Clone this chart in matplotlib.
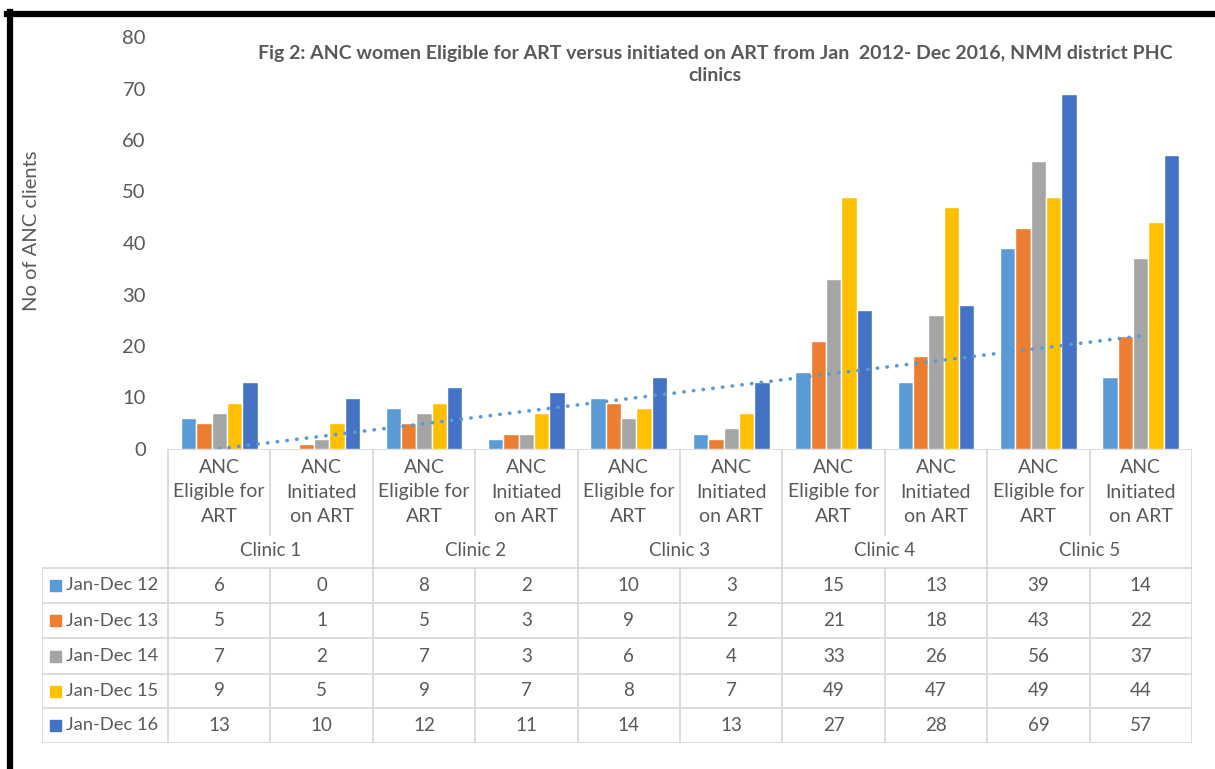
import numpy as np
import matplotlib
matplotlib.use("Agg")
import matplotlib.pyplot as plt
from matplotlib.lines import Line2D
from matplotlib.patches import Rectangle

plt.rcParams['font.family'] = ['Lato', 'DejaVu Sans']

# data
clinics = ['Clinic 1', 'Clinic 2', 'Clinic 3', 'Clinic 4', 'Clinic 5']
cat_labels = ['ANC\nEligible for\nART', 'ANC\nInitiated\non ART'] * 5
series = ['Jan-Dec 12', 'Jan-Dec 13', 'Jan-Dec 14', 'Jan-Dec 15', 'Jan-Dec 16']
jan_dec_12 = [6, 0, 8, 2, 10, 3, 15, 13, 39, 14]
jan_dec_13 = [5, 1, 5, 3, 9, 2, 21, 18, 43, 22]
jan_dec_14 = [7, 2, 7, 3, 6, 4, 33, 26, 56, 37]
jan_dec_15 = [9, 5, 9, 7, 8, 7, 49, 47, 49, 44]
jan_dec_16 = [13, 10, 12, 11, 14, 13, 27, 28, 69, 57]
values = [jan_dec_12, jan_dec_13, jan_dec_14, jan_dec_15, jan_dec_16]
colors = ['#5B9BD5', '#ED7D31', '#A5A5A5', '#FFC000', '#4472C4']

W, H = 1215, 769
fig = plt.figure(figsize=(W / 100, H / 100), dpi=100)

txt = '#595959'
grid_c = '#D9D9D9'

# main chart
ax = fig.add_axes([168 / W, 1 - 449 / H, 1024 / W, 412 / H])
n = len(jan_dec_12)
x = np.arange(n) + 0.5
bw = 0.15
for i, (vals, c) in enumerate(zip(values, colors)):
    ax.bar(x + (i - 2) * bw, vals, width=bw, color=c, edgecolor='white',
           linewidth=1, zorder=2)

# linear trend of Jan-Dec 12
coef = np.polyfit(np.arange(1, n + 1), jan_dec_12, 1)
trend = np.polyval(coef, np.arange(1, n + 1))
ax.plot(x, trend, color='#5B9BD5', linewidth=2.6, linestyle=(0, (0.1, 2.6)),
        dash_capstyle='round', zorder=3)

ax.set_xlim(0, n)
ax.set_ylim(0, 80)
ax.set_yticks(range(0, 81, 10))
ax.set_xticks([])
ax.tick_params(axis='y', length=0, pad=16, labelsize=14.5, labelcolor=txt)
for s in ax.spines.values():
    s.set_visible(False)
ax.set_ylabel('No of ANC clients', fontsize=14.5, color=txt)
ax.yaxis.set_label_coords(-0.125, 0.53)

fig.text(715 / W, 1 - 45 / H,
         'Fig 2: ANC women Eligible for ART versus initiated on ART from Jan  2012- Dec 2016, NMM district PHC\nclinics',
         ha='center', va='top', fontsize=14, fontweight='bold', color=txt,
         linespacing=1.35)

# data table below
tab = fig.add_axes([42 / W, 1 - 743 / H, 1150 / W, 294 / H])
left = -126 / 102.4
tab.set_xlim(left, n)
tab.set_ylim(294, 0)
tab.axis('off')

lw = 1.3
# header top line (category axis)
tab.plot([0, n], [0, 0], color=grid_c, lw=lw)
# horizontal lines in data rows
row_y = [119, 154, 189, 225, 259, 294]
for yy in row_y:
    tab.plot([left, n], [yy, yy], color=grid_c, lw=lw)
# vertical lines
tab.plot([0, 0], [0, 294], color=grid_c, lw=lw)
tab.plot([left, left], [119, 294], color=grid_c, lw=lw)
for k in range(1, n + 1):
    if k % 2 == 0:
        tab.plot([k, k], [0, 294], color=grid_c, lw=lw)
    else:
        tab.plot([k, k], [0, 86], color=grid_c, lw=lw)
        tab.plot([k, k], [119, 294], color=grid_c, lw=lw)

for xi, lab in zip(x, cat_labels):
    tab.text(xi, 43, lab, ha='center', va='center', fontsize=14, color=txt,
             linespacing=1.55)
for j, cl in enumerate(clinics):
    tab.text(2 * j + 1, 102, cl, ha='center', va='center', fontsize=13.5, color=txt)

for r, (name, vals, c) in enumerate(zip(series, values, colors)):
    yc = (row_y[r] + row_y[r + 1]) / 2
    tab.add_patch(Rectangle((left + 8 / 102.4, yc - 5.5), 11 / 102.4, 11,
                            color=c, clip_on=False))
    tab.text(left + 24 / 102.4, yc, name, ha='left', va='center',
             fontsize=13.2, color=txt)
    for xi, v in zip(x, vals):
        tab.text(xi, yc, str(v), ha='center', va='center', fontsize=13.5, color=txt)

# black frame on top and left
fig.add_artist(Line2D([7 / W, 1], [1 - 14 / H, 1 - 14 / H], color='black',
                      lw=4.5, transform=fig.transFigure))
fig.add_artist(Line2D([10 / W, 10 / W], [1 - 12 / H, 0], color='black',
                      lw=4.5, transform=fig.transFigure))

fig.savefig('out.png', dpi=100)
